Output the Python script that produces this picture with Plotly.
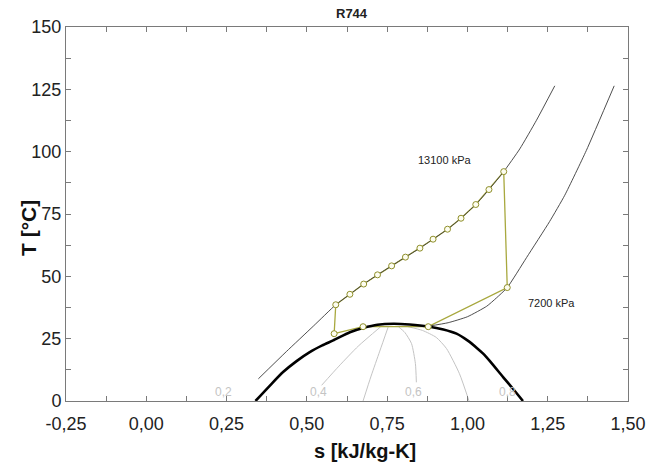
import plotly.graph_objects as go

# ---------------- data ----------------
# saturation dome (s [kJ/kg-K], T [°C])
dome_s = [0.340, 0.385, 0.426, 0.468, 0.509, 0.548, 0.582, 0.634, 0.675, 0.720, 0.770,
          0.820, 0.878, 0.925, 0.966, 1.000, 1.030, 1.049, 1.070, 1.111, 1.145, 1.173]
dome_T = [0.0, 6.2, 11.6, 16.0, 19.6, 22.3, 24.3, 27.6, 29.3, 30.6, 31.0,
          30.7, 29.9, 28.7, 27.0, 24.3, 21.2, 19.0, 16.0, 9.6, 4.4, 0.0]

# constant quality lines
q1_s = [0.546, 0.600, 0.660, 0.730]
q1_T = [6.3, 14.0, 22.0, 29.8]
q2_s = [0.675, 0.700, 0.727, 0.753]
q2_T = [0.0, 10.0, 20.0, 29.6]
q3_s = [0.841, 0.838, 0.826, 0.805, 0.785]
q3_T = [7.5, 15.0, 23.0, 27.5, 29.8]
q4_s = [1.005, 0.975, 0.935, 0.903, 0.860, 0.815]
q4_T = [0.0, 11.0, 21.0, 25.5, 28.3, 29.8]
quality_labels = ["0,2", "0,4", "0,6", "0,8"]
quality_label_s = [0.240, 0.535, 0.831, 1.125]
quality_label_T = [3.7, 3.7, 3.7, 3.7]

# isobars
p13100_s = [0.349, 0.436, 0.520, 0.590, 0.634, 0.677, 0.720, 0.764, 0.807, 0.852, 0.893,
            0.938, 0.980, 1.026, 1.067, 1.113, 1.163, 1.215, 1.272]
p13100_T = [8.9, 19.8, 30.0, 38.6, 42.8, 46.9, 50.6, 54.2, 57.7, 61.3, 64.9,
            68.9, 73.3, 78.8, 84.8, 92.0, 101.1, 112.6, 126.4]
p7200_s = [0.878, 0.940, 1.000, 1.060, 1.090, 1.124, 1.184, 1.256, 1.303, 1.370, 1.457]
p7200_T = [30.0, 31.4, 33.8, 38.0, 41.3, 45.5, 57.5, 72.0, 82.5, 100.4, 126.4]
isobar_labels = ["13100 kPa", "7200 kPa"]
isobar_label_s = [0.930, 1.262]
isobar_label_T = [96.7, 39.3]

# refrigeration cycle state points
cycle_s = [0.585, 0.675, 0.878, 1.124, 1.113, 1.067, 1.026, 0.980, 0.938, 0.893, 0.852,
           0.807, 0.764, 0.720, 0.677, 0.634, 0.590, 0.585]
cycle_T = [27.0, 29.8, 29.8, 45.5, 92.0, 84.8, 78.8, 73.3, 68.9, 64.9, 61.3,
           57.7, 54.2, 50.6, 46.9, 42.8, 38.6, 27.0]

# axis ticks
x_tickvals = [-0.25, -0.125, 0.0, 0.125, 0.25, 0.375, 0.5, 0.625, 0.75, 0.875,
              1.0, 1.125, 1.25, 1.375, 1.5]
x_ticktext = ["-0,25", "", "0,00", "", "0,25", "", "0,50", "", "0,75", "",
              "1,00", "", "1,25", "", "1,50"]
y_tickvals = [0, 12.5, 25, 37.5, 50, 62.5, 75, 87.5, 100, 112.5, 125, 137.5, 150]
y_ticktext = ["0", "", "25", "", "50", "", "75", "", "100", "", "125", "", "150"]

# ---------------- figure ----------------
FONT = "Liberation Sans, Arial, sans-serif"
OLIVE = "#a8a83e"
fig = go.Figure()

for qs, qT in [(q1_s, q1_T), (q2_s, q2_T), (q3_s, q3_T), (q4_s, q4_T)]:
    fig.add_trace(go.Scatter(x=qs, y=qT, mode="lines",
                             line=dict(color="#c4c4c4", width=1, shape="spline", smoothing=0.6),
                             hoverinfo="skip", showlegend=False))

fig.add_trace(go.Scatter(x=cycle_s, y=cycle_T, mode="lines",
                         line=dict(color=OLIVE, width=1.3), showlegend=False))

fig.add_trace(go.Scatter(x=p13100_s, y=p13100_T, mode="lines",
                         line=dict(color="#3a3a3a", width=0.9, shape="spline", smoothing=0.5),
                         showlegend=False))
fig.add_trace(go.Scatter(x=p7200_s, y=p7200_T, mode="lines",
                         line=dict(color="#3a3a3a", width=0.9, shape="spline", smoothing=0.5),
                         showlegend=False))

fig.add_trace(go.Scatter(x=dome_s, y=dome_T, mode="lines",
                         line=dict(color="black", width=2.6, shape="spline", smoothing=0.6),
                         showlegend=False))

fig.add_trace(go.Scatter(x=cycle_s[:-1], y=cycle_T[:-1], mode="markers",
                         marker=dict(symbol="circle", size=6, color="#fdfdf0",
                                     line=dict(color="#8f8f2a", width=1)),
                         showlegend=False))

annotations = []
for txt, s, T in zip(isobar_labels, isobar_label_s, isobar_label_T):
    annotations.append(dict(x=s, y=T, xref="x", yref="y", text=txt, showarrow=False,
                            xanchor="center", yanchor="middle",
                            font=dict(family=FONT, size=11, color="#222222")))
for txt, s, T in zip(quality_labels, quality_label_s, quality_label_T):
    annotations.append(dict(x=s, y=T, xref="x", yref="y", text=txt, showarrow=False,
                            xanchor="center", yanchor="middle",
                            font=dict(family=FONT, size=12, color="#c4c4c4")))
annotations.append(dict(x=0.509, y=1.037, xref="paper", yref="paper", text="<b>R744</b>",
                        showarrow=False, xanchor="center", yanchor="middle",
                        font=dict(family=FONT, size=13, color="#222222")))
annotations.append(dict(x=0.532, y=-0.135, xref="paper", yref="paper",
                        text="<b>s [kJ/kg-K]</b>", showarrow=False,
                        xanchor="center", yanchor="middle",
                        font=dict(family=FONT, size=20, color="#111111")))
annotations.append(dict(x=-0.068, y=0.462, xref="paper", yref="paper",
                        text="<b>T [°C]</b>", showarrow=False, textangle=-90,
                        xanchor="center", yanchor="middle",
                        font=dict(family=FONT, size=21, color="#111111")))

axis_common = dict(showline=True, linecolor="#7a7a7a", linewidth=1, mirror="ticks",
                   ticks="inside", ticklen=5, tickcolor="#7a7a7a", tickwidth=1,
                   showgrid=False, zeroline=False,
                   tickfont=dict(family=FONT, size=18, color="#222222"))

fig.update_layout(
    width=659, height=462,
    margin=dict(l=66, r=31, t=27, b=61),
    paper_bgcolor="white", plot_bgcolor="white",
    separators=",.",
    showlegend=False,
    annotations=annotations,
    xaxis=dict(range=[-0.25, 1.5], tickmode="array", tickvals=x_tickvals,
               ticktext=x_ticktext, ticklabelstandoff=6, **axis_common),
    yaxis=dict(range=[0, 150], tickmode="array", tickvals=y_tickvals,
               ticktext=y_ticktext, ticklabelstandoff=0, **axis_common),
)

fig.write_html("out.html")
